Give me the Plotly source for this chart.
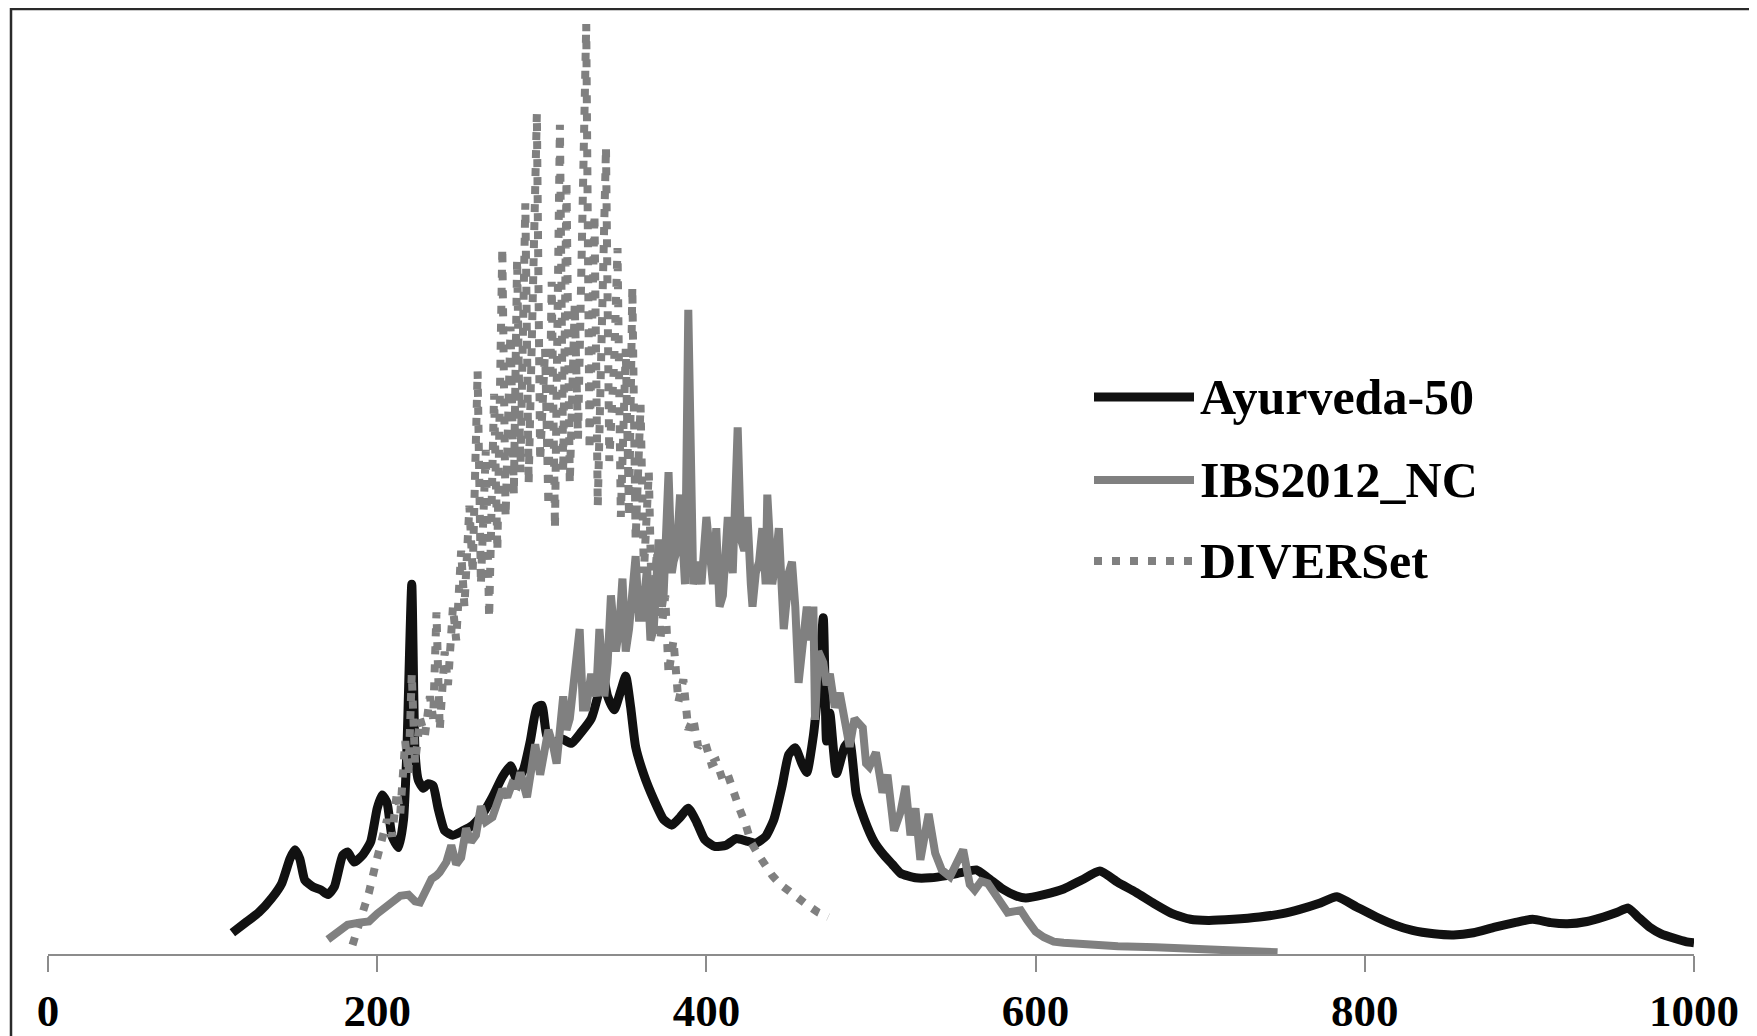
import plotly.graph_objects as go

# ---------------- data ----------------
ayur_x = [112, 120, 128, 136, 142, 147, 150, 153, 156, 161, 166, 170, 174, 179, 182, 186, 191, 196,
          200, 203, 206, 209, 213, 216, 218, 221, 223, 225, 228, 231, 234, 237, 241, 246, 252, 258,
          264, 270, 276, 281, 285, 289, 293, 297, 300, 303, 307, 312, 318, 324, 330, 334, 337, 340,
          344, 348, 351, 354, 357, 362, 368, 374, 379, 384, 389, 394, 399, 405, 412, 418, 424, 430,
          436, 441, 446, 450, 454, 458, 461, 465, 468, 471, 473, 475, 479, 484, 487, 491, 496, 502,
          508, 513, 518, 527, 536, 546, 556, 564, 571, 580, 588, 594, 605, 617, 628, 639, 650, 661,
          672, 683, 694, 705, 720, 736, 750, 761, 772, 783, 795, 807, 818, 829, 842, 854, 866, 879,
          891, 902, 913, 923, 935, 945, 953, 960, 966, 973, 980, 988, 995, 1000]
ayur_y = [0.19, 0.28, 0.37, 0.50, 0.63, 0.85, 0.93, 0.85, 0.66, 0.60, 0.57, 0.53, 0.60, 0.88, 0.91, 0.82, 0.88, 1.00,
          1.30, 1.42, 1.35, 1.05, 0.95, 1.20, 1.80, 3.30, 1.80, 1.55, 1.48, 1.52, 1.50, 1.30, 1.10, 1.06, 1.10, 1.15,
          1.25, 1.40, 1.58, 1.68, 1.55, 1.65, 1.90, 2.20, 2.22, 1.95, 1.88, 1.92, 1.88, 1.98, 2.10, 2.30, 2.50, 2.30,
          2.18, 2.35, 2.48, 2.20, 1.85, 1.60, 1.38, 1.20, 1.15, 1.22, 1.30, 1.18, 1.02, 0.96, 0.97, 1.03, 1.01, 0.99,
          1.05, 1.20, 1.50, 1.78, 1.84, 1.70, 1.62, 1.95, 2.40, 3.00, 1.90, 2.15, 1.61, 1.85, 1.90, 1.43, 1.20, 1.00,
          0.88, 0.80, 0.72, 0.68, 0.68, 0.70, 0.73, 0.75, 0.68, 0.58, 0.52, 0.50, 0.53, 0.58, 0.66, 0.74, 0.64, 0.55,
          0.45, 0.36, 0.31, 0.30, 0.31, 0.33, 0.36, 0.40, 0.45, 0.51, 0.42, 0.33, 0.26, 0.21, 0.18, 0.17, 0.19, 0.24,
          0.28, 0.31, 0.28, 0.27, 0.29, 0.33, 0.37, 0.41, 0.33, 0.24, 0.18, 0.14, 0.11, 0.10]

ibs_x = [170, 176, 182, 189, 195, 200, 205, 209, 214, 219, 223, 226, 230, 233, 236, 238, 242, 245, 248, 251,
         254, 257, 260, 263, 266, 270, 273, 276, 279, 282, 285, 287, 291, 294, 296, 299, 302, 304, 307, 309,
         313, 315, 317, 320, 323, 325, 327, 330, 333, 335, 338, 340, 342, 345, 347, 349, 351, 353, 357, 359,
         361, 364, 366, 368, 371, 373, 374, 377, 379, 380, 382, 384, 386, 387, 389, 391, 392, 395, 397, 400,
         403, 404, 406, 408, 410, 413, 415, 416, 419, 421, 423, 425, 427, 428, 430, 432, 434, 436, 437, 439,
         440, 442, 444, 446, 447, 449, 450, 452, 454, 456, 458, 461, 463, 465, 466, 468, 471, 473, 475, 478,
         481, 484, 487, 490, 495, 497, 499, 503, 507, 510, 514, 518, 521, 524, 527, 530, 535, 539, 543, 548,
         552, 556, 560, 563, 567, 571, 577, 583, 587, 591, 595, 600, 605, 611, 617, 630, 650, 673, 700, 725, 747]
ibs_y = [0.13, 0.20, 0.26, 0.28, 0.29, 0.36, 0.42, 0.47, 0.52, 0.53, 0.47, 0.46, 0.60, 0.67, 0.70, 0.73, 0.82, 0.97, 0.80, 0.86,
         1.12, 1.00, 1.06, 1.32, 1.18, 1.22, 1.35, 1.47, 1.40, 1.52, 1.50, 1.62, 1.40, 1.70, 1.87, 1.60, 1.80, 2.00, 1.85, 1.70,
         2.30, 2.00, 2.10, 2.50, 2.90, 2.20, 2.20, 2.50, 2.30, 2.90, 2.30, 2.60, 3.20, 2.70, 2.90, 3.35, 2.70, 2.90, 3.55, 3.00,
         3.00, 3.45, 2.80, 2.90, 3.70, 3.10, 3.20, 4.30, 3.40, 3.50, 3.60, 4.10, 3.40, 3.30, 5.75, 3.30, 3.30, 3.50, 3.30, 3.90,
         3.40, 3.30, 3.80, 3.10, 3.20, 3.90, 3.50, 3.40, 4.70, 3.70, 3.60, 3.90, 3.30, 3.10, 3.40, 3.50, 3.80, 3.30, 4.10, 3.40,
         3.30, 3.50, 3.80, 3.20, 2.90, 3.20, 3.40, 3.50, 3.10, 2.42, 2.76, 3.10, 2.80, 3.10, 2.09, 2.70, 2.60, 2.40, 2.50, 2.20,
         2.33, 2.10, 1.85, 2.10, 2.02, 1.70, 1.67, 1.80, 1.44, 1.60, 1.10, 1.27, 1.50, 1.06, 1.30, 0.84, 1.25, 0.90, 0.75, 0.69,
         0.80, 0.93, 0.62, 0.57, 0.65, 0.63, 0.50, 0.37, 0.38, 0.39, 0.30, 0.20, 0.15, 0.11, 0.10, 0.085, 0.07, 0.06, 0.04, 0.025, 0.015]

div_x = [185, 190, 195, 199, 203, 206, 209, 212, 214, 217, 219, 221, 223, 226, 229, 232, 234, 236, 238, 241,
         243, 246, 248, 251, 253, 256, 258, 261, 263, 266, 268, 271, 273, 276, 278, 281, 283, 285, 287, 290,
         292, 294, 297, 299, 302, 304, 306, 308, 311, 313, 315, 317, 320, 322, 325, 327, 329, 332, 334, 337,
         339, 341, 344, 346, 348, 351, 353, 355, 357, 360, 362, 365, 367, 370, 372, 375, 377, 380, 383, 386,
         389, 392, 395, 399, 403, 406, 410, 413, 417, 420, 424, 427, 431, 435, 440, 445, 450, 456, 462, 468, 474]
div_y = [0.08, 0.30, 0.55, 0.80, 1.00, 1.20, 1.05, 1.45, 1.25, 1.90, 1.60, 2.50, 1.70, 2.10, 1.95, 2.30, 2.10, 3.05, 2.00, 2.70,
         2.40, 3.10, 2.80, 3.60, 3.10, 4.00, 3.40, 5.20, 3.30, 4.50, 3.00, 5.00, 3.60, 6.30, 3.90, 5.60, 4.10, 6.20, 4.30, 6.70,
         4.20, 5.90, 7.50, 4.40, 5.40, 4.00, 6.00, 3.80, 7.40, 4.30, 6.90, 4.20, 5.80, 4.60, 7.10, 8.30, 4.50, 6.60, 4.00, 5.80,
         7.20, 4.40, 5.30, 6.30, 3.90, 5.40, 3.90, 5.95, 3.70, 4.90, 3.40, 4.30, 3.00, 3.60, 2.80, 3.20, 2.50, 2.80, 2.25, 2.45,
         2.00, 2.10, 1.85, 1.90, 1.70, 1.72, 1.55, 1.60, 1.40, 1.30, 1.15, 1.00, 0.90, 0.80, 0.70, 0.62, 0.56, 0.50, 0.43, 0.37, 0.33]

x_ticks = [0, 200, 400, 600, 800, 1000]
series_names = ["Ayurveda-50", "IBS2012_NC", "DIVERSet"]

# ---------------- styles ----------------
BLACK = "#111111"
GRAY = "#808080"
DOTDASH = "8px,10px"
SERIF = "Liberation Serif"

fig = go.Figure()
fig.add_trace(go.Scatter(x=ayur_x, y=ayur_y, mode="lines", name=series_names[0],
                         line=dict(color=BLACK, width=9, shape="spline", smoothing=0.5),
                         showlegend=False))
fig.add_trace(go.Scatter(x=ibs_x, y=ibs_y, mode="lines", name=series_names[1],
                         line=dict(color=GRAY, width=8),
                         showlegend=False))
fig.add_trace(go.Scatter(x=div_x, y=div_y, mode="lines", name=series_names[2],
                         line=dict(color=GRAY, width=8, dash=DOTDASH),
                         showlegend=False))

W, H = 1757, 1036
OFF = 8  # the page body margin shifts the figure by this much
# plot area in page pixels
PX0, PX1, PY0, PY1 = 48, 1694, 10, 954
ML, MT = PX0 - OFF, PY0 - OFF
PW, PH = PX1 - PX0, PY1 - PY0
MR, MB = W - ML - PW, H - MT - PH


def px_to_paper(X, Y):
    # page pixel -> paper fraction
    return (X - PX0) / PW, (PY1 - Y) / PH


shapes = []
# outer frame (only top and left edges fall inside the picture)
fx0, fy1 = px_to_paper(11, 9)
fx1, fy0 = px_to_paper(W + 30, H + 30)
shapes.append(dict(type="rect", xref="paper", yref="paper", x0=fx0, x1=fx1, y0=fy0, y1=fy1,
                   line=dict(color="#2a2a2a", width=2.5), fillcolor="rgba(0,0,0,0)", layer="below"))

# manual legend
legend_rows = [397, 480, 561]
legend_styles = [dict(color=BLACK, width=9), dict(color=GRAY, width=8), dict(color=GRAY, width=8, dash=DOTDASH)]
annotations = []
for name, row, st in zip(series_names, legend_rows, legend_styles):
    lx0, ly = px_to_paper(1094, row)
    lx1, _ = px_to_paper(1194, row)
    shapes.append(dict(type="line", xref="paper", yref="paper", x0=lx0, x1=lx1, y0=ly, y1=ly, line=st))
    tx, _ = px_to_paper(1198, row)
    annotations.append(dict(xref="paper", yref="paper", x=tx, y=ly, text=name, showarrow=False,
                            xanchor="left", yanchor="middle",
                            font=dict(family=SERIF, size=50, color="black", weight="bold")))

fig.update_layout(
    width=W, height=H,
    margin=dict(l=ML, r=MR, t=MT, b=MB, pad=0),
    paper_bgcolor="white", plot_bgcolor="white",
    showlegend=False,
    shapes=shapes,
    annotations=annotations,
    xaxis=dict(range=[0, 1000], tickvals=x_ticks, ticktext=[str(v) for v in x_ticks],
               showgrid=False, zeroline=False, showline=True, linecolor="#8c8c8c", linewidth=2,
               ticks="outside", ticklen=16, tickwidth=2, tickcolor="#8c8c8c",
               tickfont=dict(family=SERIF, size=45, color="black", weight="bold")),
    yaxis=dict(range=[0, PH / 112.05], visible=False, showgrid=False, zeroline=False),
)

fig.write_html("out.html")
